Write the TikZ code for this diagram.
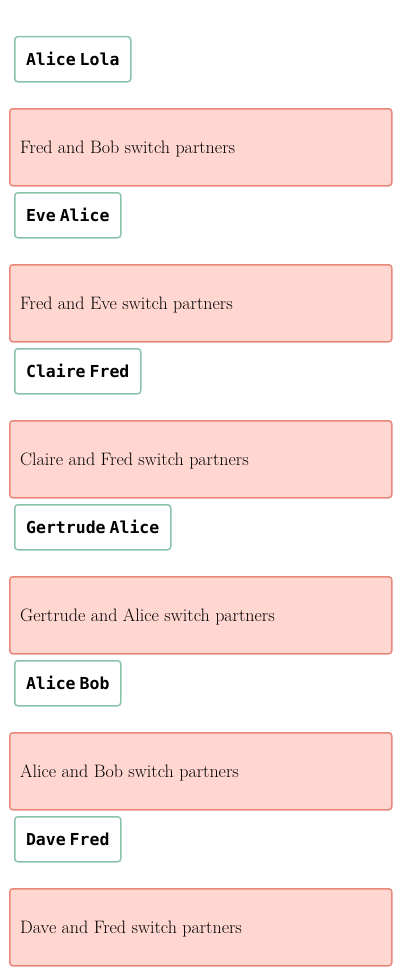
\documentclass[tikz,border=0pt]{standalone}
\usepackage{fontspec}
\setmonofont{DejaVu Sans Mono}
\definecolor{gborder}{HTML}{8CC4AA}
\definecolor{rborder}{HTML}{E8877A}
\definecolor{rfill}{HTML}{FFD6D0}
\newcommand{\gap}{\hspace{4pt}}
\begin{document}
\begin{tikzpicture}[x=1pt,y=1pt,
  namebox/.style={draw=gborder, fill=white, line width=1.5pt, rounded corners=3pt,
    anchor=north west, minimum height=45pt, inner xsep=0pt, inner ysep=0pt,
    minimum width=#1, font=\fontsize{16.5}{19}\selectfont\ttfamily\bfseries},
  eventbox/.style={draw=rborder, fill=rfill, line width=1.5pt, rounded corners=3pt,
    anchor=north west, minimum height=77pt, minimum width=382pt, inner sep=0pt},
  eventtext/.style={anchor=west, inner sep=0pt, font=\fontsize{18}{21}\selectfont}]
\useasboundingbox (0,0) rectangle (400,-974);
\node[namebox=116pt] (n1) at (14,-36) {Alice\gap Lola};
\node[eventbox] (e1) at (9,-108) {};
\node[eventtext] (t1) at ([xshift=11pt,yshift=-2pt]e1.west) {Fred and Bob switch partners};
\node[namebox=106pt] (n2) at (14,-192) {Eve\gap Alice};
\node[eventbox] (e2) at (9,-264) {};
\node[eventtext] (t2) at ([xshift=11pt,yshift=-2pt]e2.west) {Fred and Eve switch partners};
\node[namebox=126pt] (n3) at (14,-348) {Claire\gap Fred};
\node[eventbox] (e3) at (9,-420) {};
\node[eventtext] (t3) at ([xshift=11pt,yshift=-2pt]e3.west) {Claire and Fred switch partners};
\node[namebox=156pt] (n4) at (14,-504) {Gertrude\gap Alice};
\node[eventbox] (e4) at (9,-576) {};
\node[eventtext] (t4) at ([xshift=11pt,yshift=-2pt]e4.west) {Gertrude and Alice switch partners};
\node[namebox=106pt] (n5) at (14,-660) {Alice\gap Bob};
\node[eventbox] (e5) at (9,-732) {};
\node[eventtext] (t5) at ([xshift=11pt,yshift=-2pt]e5.west) {Alice and Bob switch partners};
\node[namebox=106pt] (n6) at (14,-816) {Dave\gap Fred};
\node[eventbox] (e6) at (9,-888) {};
\node[eventtext] (t6) at ([xshift=11pt,yshift=-2pt]e6.west) {Dave and Fred switch partners};
\end{tikzpicture}
\end{document}
